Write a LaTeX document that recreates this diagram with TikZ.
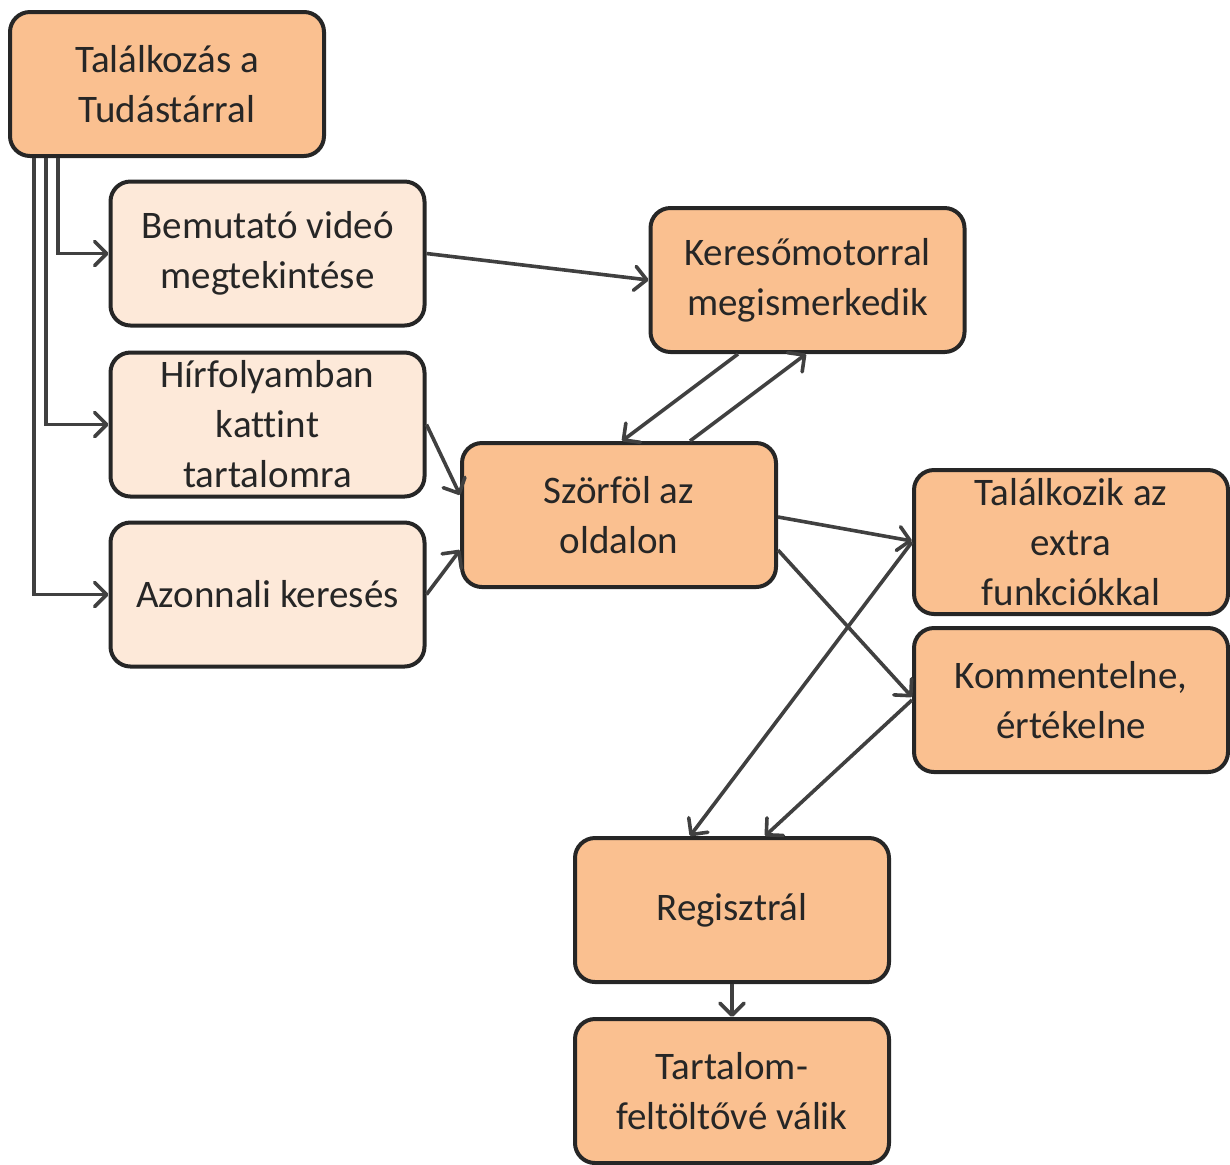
\documentclass[tikz,border=0pt]{standalone}
\usepackage{fontspec}
\setmainfont[Ligatures={NoCommon}]{Carlito}
\usetikzlibrary{arrows.meta,calc}
\definecolor{boxdark}{HTML}{FAC090}
\definecolor{boxlight}{HTML}{FDE9D9}
\definecolor{edgecol}{HTML}{262626}
\definecolor{arrcol}{HTML}{404040}
\definecolor{txtcol}{HTML}{262626}
\tikzset{
  box/.style={draw=edgecol, line width=2pt, rounded corners=10pt,
    minimum width=157pt, minimum height=72pt, inner sep=0pt, align=center,
    text=txtcol, font=\fontsize{19.5}{25}\selectfont},
  darkbox/.style={box, fill=boxdark},
  lightbox/.style={box, fill=boxlight},
  conn/.style={draw=arrcol, line width=1.8pt, -{Straight Barb[length=6pt,width=12pt,line width=1.8pt,round]}},
}
\begin{document}
\begin{tikzpicture}[x=0.5pt,y=-0.5pt]
\useasboundingbox (0,0) rectangle (1230,1164);
\node[darkbox] (n1) at (167,84) {Találkozás a\\Tudástárral};
\node[lightbox] (n2) at (267.5,253.5) {Bemutató videó\\megtekintése};
\node[lightbox] (n3) at (267.5,424.5) {Hírfolyamban\\kattint\\tartalomra};
\node[lightbox] (n4) at (267.5,594.5) {Azonnali keresés};
\node[darkbox] (n5) at (807.5,280) {Keresőmotorral\\megismerkedik};
\node[darkbox] (n6) at (619,515) {Szörföl az\\oldalon};
\node[darkbox] (n7) at (1071,542) {Találkozik az\\extra\\funkciókkal};
\node[darkbox] (n8) at (1071,700) {Kommentelne,\\értékelne};
\node[darkbox] (n9) at (732,910) {Regisztrál};
\node[darkbox] (n10) at (732,1091) {Tartalom-\\feltöltővé válik};

\draw[conn] ($(n1.south west)+(50,0)$) |- (n2.west);
\draw[conn] ($(n1.south west)+(38,0)$) |- (n3.west);
\draw[conn] ($(n1.south west)+(26,0)$) |- (n4.west);
\draw[conn] (n2.east) -- (n5.west);
\draw[conn] (n3.east) -- ($(n6.west)+(0,-20)$);
\draw[conn] (n4.east) -- ($(n6.west)+(0,35)$);
\draw[conn] ($(n5.south)+(-69.5,0)$) -- ($(n6.north)+(3,0)$);
\draw[conn] ($(n6.north)+(71,0)$) -- ($(n5.south)+(-1.5,0)$);
\draw[conn] ($(n6.east)+(0,2)$) -- ($(n7.west)+(0,-1)$);
\draw[conn] ($(n6.east)+(0,35)$) -- ($(n8.west)+(0,-3)$);
\draw[conn] (n7.west) -- ($(n9.north)+(-42,0)$);
\draw[conn] (n8.west) -- ($(n9.north)+(33,0)$);
\draw[conn] (n9.south) -- (n10.north);
\end{tikzpicture}
\end{document}
